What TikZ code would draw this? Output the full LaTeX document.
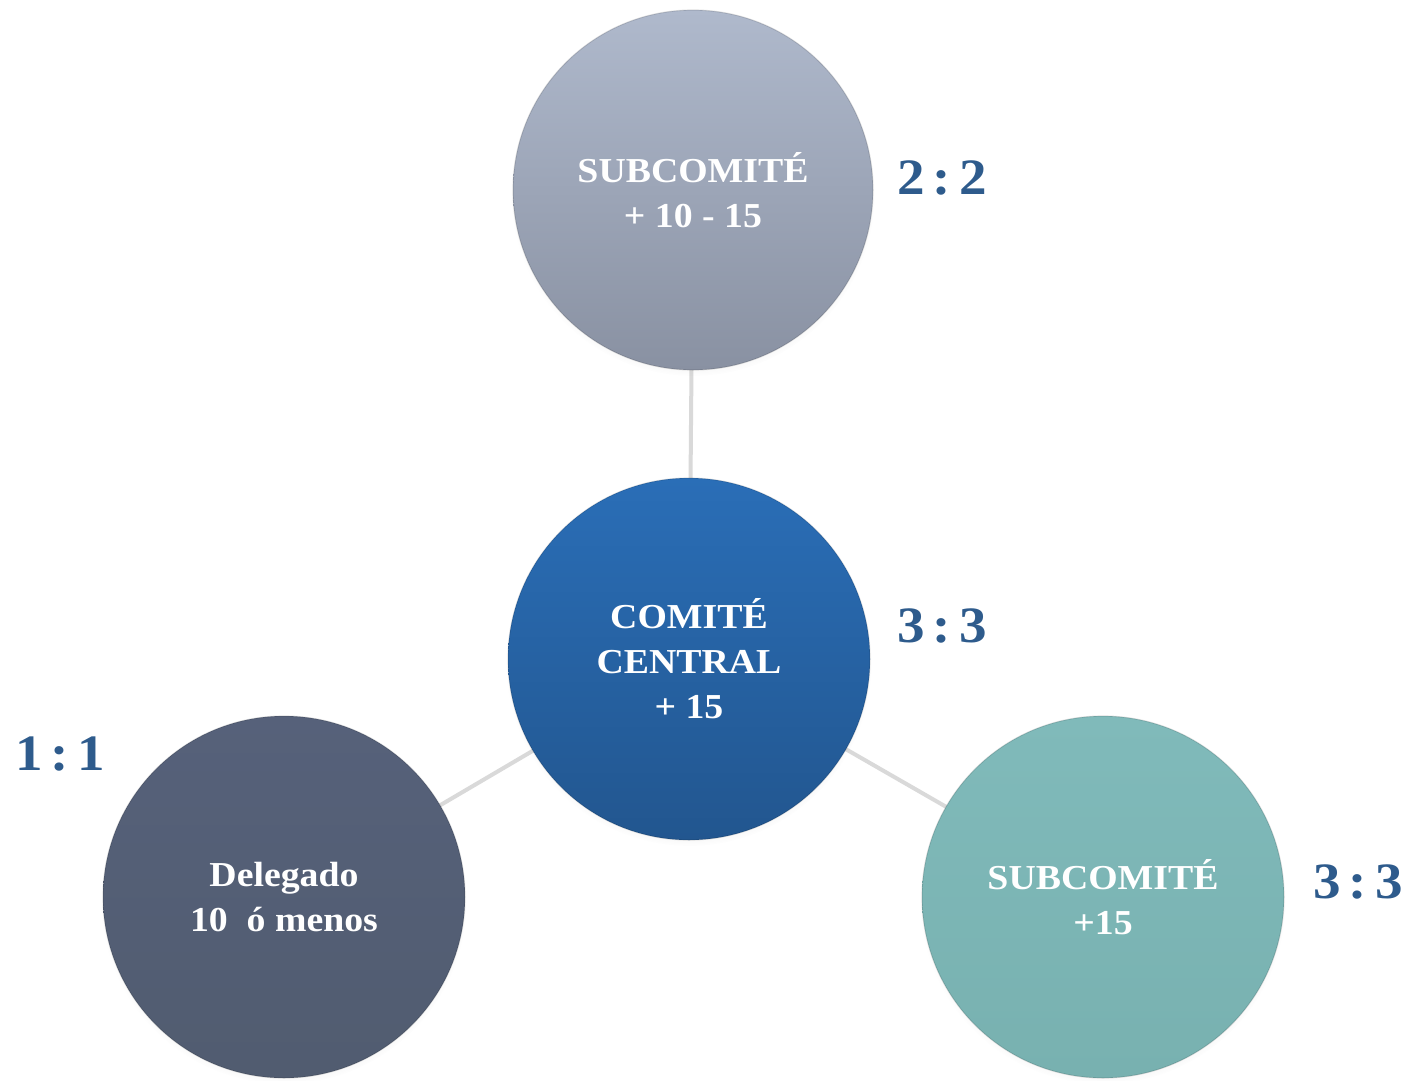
\documentclass[tikz,border=0pt]{standalone}
\usepackage{fontspec}
\setmainfont{Liberation Serif}[BoldFeatures={FakeStretch=1.08}]
\usetikzlibrary{shadows}
\definecolor{lbl}{HTML}{2E5B8C}
\definecolor{edge}{HTML}{D9D9D9}
\definecolor{topA}{HTML}{AFB9CC}
\definecolor{topB}{HTML}{8991A2}
\definecolor{midA}{HTML}{2A6EB7}
\definecolor{midB}{HTML}{22568F}
\definecolor{delA}{HTML}{56617A}
\definecolor{delB}{HTML}{515C70}
\definecolor{subA}{HTML}{80BABA}
\definecolor{subB}{HTML}{78B1B0}
\newcommand{\rsep}{\hspace{0.16em}}
\begin{document}
\begin{tikzpicture}[x=1pt,y=-1pt,
  bubble/.style={circle, minimum size=362pt, inner sep=0pt, align=center,
    text=white, font=\bfseries\fontsize{35}{45}\selectfont,
    draw=black, draw opacity=0.12, line width=1.2pt,
    circular drop shadow={shadow xshift=0pt, shadow yshift=-4pt, opacity=0.18, shadow scale=1.01}},
  ratio/.style={text=lbl, font=\bfseries\fontsize{51}{60}\selectfont, inner sep=0pt},
  link/.style={draw=edge, line width=4pt}]
\useasboundingbox (0,0) rectangle (1414,1080);
\fill[white] (0,0) rectangle (1414,1080);
\coordinate (ct) at (693,190);
\coordinate (cc) at (689,659);
\coordinate (cl) at (284,897);
\coordinate (cr) at (1103,897);
\draw[link] (ct) -- (cc);
\draw[link] (cc) -- (cl);
\draw[link] (cc) -- (cr);
\node[bubble, top color=topA, bottom color=topB, minimum size=360pt] (top) at (ct) {SUBCOMITÉ\\+ 10 - 15};
\node[bubble, top color=midA, bottom color=midB] (mid) at (cc) {COMITÉ\\CENTRAL\\+ 15};
\node[bubble, top color=delA, bottom color=delB] (del) at (cl) {Delegado\\10\ \ ó menos};
\node[bubble, top color=subA, bottom color=subB] (sub) at (cr) {SUBCOMITÉ\\+15};
\node[ratio] (r1) at (942,178) {2\rsep:\rsep2};
\node[ratio] (r2) at (942,626) {3\rsep:\rsep3};
\node[ratio] (r3) at (60,754) {1\rsep:\rsep1};
\node[ratio] (r4) at (1358,882) {3\rsep:\rsep3};
\end{tikzpicture}
\end{document}
